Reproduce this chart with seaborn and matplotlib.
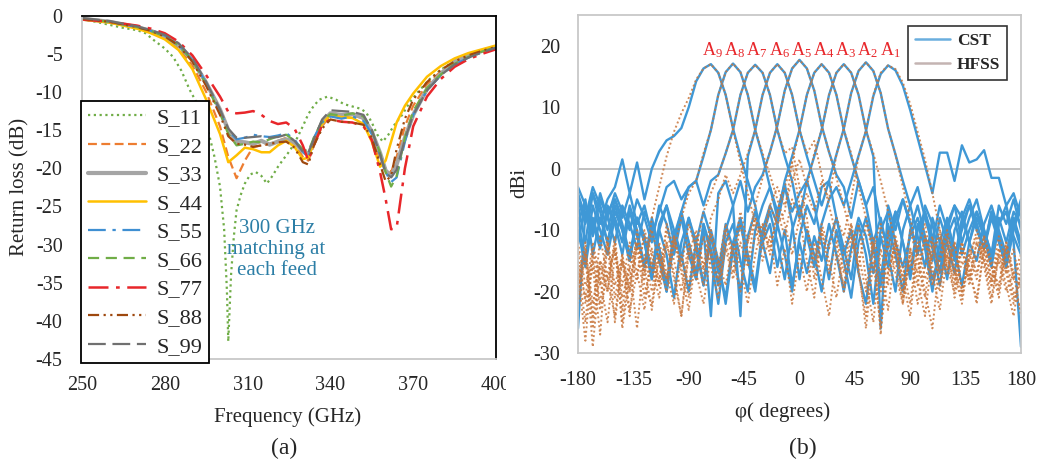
import matplotlib
matplotlib.use("Agg")
import matplotlib.pyplot as plt
import seaborn as sns
from matplotlib.lines import Line2D
from matplotlib.patches import Rectangle

# ---------------- data: panel (a) ----------------
FREQ = [250, 260, 270, 275, 280, 285, 290, 295, 300, 303, 306, 309, 312, 315, 318, 321, 324, 327, 330, 332,
        334, 337, 340, 344, 348, 352, 355, 358, 360, 362, 364, 367, 370, 375, 380, 385, 390, 395, 400]

FREQ_11 = [250, 255, 260, 265, 270, 273, 276, 280, 283, 286, 289, 292, 294, 296, 298, 300, 301.5, 302.5, 303, 304,
           305, 306, 307.5, 309, 311, 313, 315, 317, 319, 321, 323, 325.5, 328, 330, 332, 334, 336, 339, 342, 345,
           348, 351, 353, 355, 357, 359, 361, 363, 366, 369, 372, 376, 380, 385, 390, 395, 400]
S_11 = [-0.5, -0.8, -1.2, -1.6, -1.9, -2.3, -3.2, -4.3, -5.4, -7.2, -9.7, -11.7, -13.2, -15.5, -18.5, -22.4, -28, -36, -42.7, -34,
        -29, -25.5, -23.5, -22, -20.8, -20.5, -21, -22, -21, -19.8, -18.8, -17.6, -16, -14.5, -12.9, -11.8, -11, -10.6, -11, -11.6,
        -11.9, -12.2, -12.7, -14, -15.6, -16.5, -15.6, -14.4, -13, -11.2, -9.9, -8.3, -7.1, -5.9, -5.1, -4.5, -4.0]

S_22 = [-0.4, -0.8, -1.6, -2.2, -3.0, -4.3, -6.5, -10.0, -14.5, -18.5, -21.3, -19.0, -17.2, -17.0, -16.8, -16.4, -16.0, -16.8, -18.5, -19.0,
        -17.0, -14.5, -13.0, -13.3, -13.0, -13.5, -15.5, -19.0, -20.0, -20.5, -18.5, -14.5, -11.8, -9.0, -7.3, -6.1, -5.3, -4.6, -4.1]
S_33 = [-0.4, -0.8, -1.5, -2.0, -2.7, -3.9, -5.8, -8.8, -12.3, -15.0, -16.5, -16.6, -16.8, -16.4, -16.9, -16.5, -16.2, -16.6, -17.8, -18.2,
        -16.5, -14.0, -12.8, -13.0, -12.9, -13.4, -15.2, -18.0, -20.3, -21.0, -19.5, -16.0, -13.0, -9.6, -7.6, -6.0, -5.2, -4.6, -4.1]
S_44 = [-0.5, -0.9, -1.7, -2.3, -3.1, -4.5, -7.0, -11.0, -15.5, -19.2, -18.3, -17.3, -17.5, -17.9, -17.9, -17.0, -16.4, -17.2, -18.8, -18.6,
        -16.5, -14.2, -13.0, -13.3, -13.4, -14.2, -16.5, -19.8, -19.0, -16.5, -14.0, -11.8, -10.2, -8.0, -6.6, -5.6, -4.9, -4.4, -3.9]
S_55 = [-0.4, -0.8, -1.5, -2.0, -2.6, -3.8, -5.8, -8.8, -12.5, -15.0, -16.2, -16.0, -15.6, -15.8, -15.9, -15.7, -15.4, -16.2, -17.8, -18.6,
        -16.0, -14.0, -13.2, -13.5, -13.2, -13.8, -15.5, -18.2, -20.5, -21.8, -21.2, -16.5, -13.0, -9.8, -7.8, -6.4, -5.5, -4.8, -4.2]
S_66 = [-0.4, -0.8, -1.5, -2.0, -2.7, -3.9, -5.9, -9.0, -12.8, -15.5, -17.0, -16.8, -16.5, -16.6, -16.2, -15.8, -15.6, -16.4, -17.5, -17.8,
        -16.0, -13.8, -12.9, -13.1, -12.8, -13.2, -15.0, -18.0, -20.5, -22.4, -21.0, -16.0, -12.5, -9.5, -7.7, -6.3, -5.4, -4.7, -4.1]
S_77 = [-0.5, -0.8, -1.3, -1.7, -2.3, -3.4, -5.2, -7.8, -10.6, -12.6, -12.8, -12.7, -12.5, -13.0, -13.8, -14.2, -14.0, -14.8, -17.0, -19.0,
        -17.0, -14.3, -13.6, -13.9, -14.0, -14.5, -16.3, -20.5, -24.0, -28.0, -27.8, -20.0, -14.5, -10.6, -8.3, -6.7, -5.7, -5.0, -4.4]
S_88 = [-0.4, -0.8, -1.5, -2.0, -2.7, -3.9, -6.0, -9.2, -13.0, -15.8, -16.8, -16.9, -17.2, -17.0, -16.8, -16.6, -16.5, -17.3, -19.2, -19.5,
        -17.0, -14.8, -13.6, -13.9, -14.0, -14.3, -16.0, -19.5, -21.7, -21.0, -17.5, -13.5, -11.0, -8.7, -7.1, -6.0, -5.2, -4.6, -4.1]
S_99 = [-0.3, -0.7, -1.4, -1.9, -2.5, -3.6, -5.6, -8.7, -12.3, -14.8, -16.0, -16.0, -15.9, -15.8, -16.0, -15.9, -15.6, -16.4, -17.8, -18.0,
        -16.2, -13.6, -12.4, -12.5, -12.6, -13.0, -15.0, -18.2, -20.6, -21.2, -20.2, -16.2, -13.0, -9.8, -7.8, -6.4, -5.5, -4.8, -4.2]

S_NAMES = ["S_11", "S_22", "S_33", "S_44", "S_55", "S_66", "S_77", "S_88", "S_99"]
X_TICKS_A = [250, 280, 310, 340, 370, 400]
Y_TICKS_A = [0, -5, -10, -15, -20, -25, -30, -35, -40, -45]

# ---------------- data: panel (b) ----------------
PHI = list(range(-180, 181, 6))
PEAKS = [-72, -54, -36, -18, 0, 18, 36, 54, 72]
BEAM_LABELS = ["A$_9$", "A$_8$", "A$_7$", "A$_6$", "A$_5$", "A$_4$", "A$_3$", "A$_2$", "A$_1$"]
Y_TICKS_B = [20, 10, 0, -10, -20, -30]
X_TICKS_B = [-180, -135, -90, -45, 0, 45, 90, 135, 180]

CST_A9 = [-6, -12, -4, -9, -5, -3, 1.5, -4, 1, -5,
          0, 2.8, 4.6, 5.3, 6.6, 10, 14.2, 16.3, 17, 15.6,
          12, 6.5, 2, -2, -6, -12, -9, -16, -10, -19,
          -12, -17, -11, -15, -9, -14, -20, -13, -8, -11,
          -17, -10, -7, -12, -16, -11, -8, -12, -18, -14,
          -9, -13, -19, -12, -8, -11, -15, -9, -7, -12,
          -29]
CST_A8 = [-4, -8, -3, -6, -10, -5, -8, -4, -9, -6,
          -11, -7, -3, -2, -5, -3, -2, 2, 6.3, 12,
          15.7, 17.1, 15.7, 12, 6.3, 2, -3, -7, -2.5, -9,
          -18, -10, -14, -20, -12, -8, -13, -18, -9, -14,
          -22, -11, -16, -8, -5, -9, -14, -6, -9, -15,
          -10, -6, -8, -12, -7, -10, -14, -6, -9, -5,
          -10]
CST_A7 = [-9, -5, -14, -8, -12, -7, -10, -15, -8, -12,
          -18, -10, -6, -12, -7, -3, -2, -6, -2, -1,
          2.5, 6.3, 12, 15.6, 16.9, 15.6, 12, 6.3, 2, -2,
          -8, -2, -6, -12, -18, -10, -15, -21, -12, -8,
          -13, -19, -11, -7, -12, -17, -9, -13, -20, -12,
          -8, -14, -10, -6, -9, -13, -8, -12, -16, -10,
          -6]
CST_A6 = [-26, -7, -10, -4, -8, -12, -6, -9, -13, -7,
          -10, -15, -20, -12, -8, -14, -18, -10, -24, -4,
          -2, -6, -24, 2, 6.3, 12, 15.6, 17, 15.6, 12,
          6.3, 2, -2, -6, -2, -8, -14, -10, -17, -22,
          -12, -8, -14, -20, -10, -6, -11, -16, -8, -12,
          -18, -10, -7, -12, -15, -9, -6, -10, -14, -8,
          -12]
CST_A5 = [-3, -6, -11, -5, -8, -4, -7, -10, -5, -8,
          -12, -6, -9, -14, -8, -12, -17, -9, -13, -19,
          -10, -6, -2, -7, -3, -1, 2.7, 7, 12.7, 16.3,
          17.7, 16.3, 12.7, 7, 2.7, -1, -3, -8, -2, -6,
          -12, -18, -9, -14, -20, -10, -6, -11, -15, -8,
          -12, -17, -9, -6, -10, -13, -7, -11, -15, -9,
          -5]
CST_A4 = [-8, -15, -6, -10, -14, -8, -12, -6, -10, -16,
          -9, -13, -20, -11, -7, -12, -18, -9, -14, -22,
          -12, -9, -15, -20, -10, -6, -3, -8, -2, 2,
          6.3, 12, 15.6, 17, 15.6, 12, 6.3, 2, -2, -6,
          -3, -9, -13, -7, -12, -18, -10, -7, -13, -19,
          -11, -8, -14, -10, -7, -11, -16, -9, -6, -11,
          -14]
CST_A3 = [-12, -6, -9, -13, -7, -5, -9, -14, -8, -11,
          -17, -9, -6, -10, -15, -8, -12, -19, -11, -16,
          -21, -12, -8, -14, -19, -10, -6, -9, -3, -7,
          -4, -2, 2, 6.3, 12, 15.6, 17, 15.6, 12, 6.3,
          2, -26, -6, -10, -5, -9, -14, -7, -11, -17,
          -9, -6, -12, -8, -5, -10, -14, -8, -12, -7,
          -9]
CST_A2 = [-10, -16, -8, -12, -6, -9, -14, -7, -11, -16,
          -8, -13, -19, -10, -14, -20, -12, -7, -11, -17,
          -9, -13, -20, -11, -7, -12, -17, -9, -14, -20,
          -11, -6, -9, -3, -2, 2.3, 6.5, 12.3, 15.9, 17.3,
          15.9, 12.3, 6.5, 2.3, -2, -6, -3, -8, -12, -6,
          -10, -15, -8, -5, -9, -13, -7, -11, -16, -9,
          -13]
CST_A1 = [-5, -9, -4, -7, -12, -6, -10, -15, -8, -12,
          -18, -10, -14, -21, -12, -8, -13, -19, -10, -15,
          -22, -13, -9, -15, -20, -11, -7, -12, -18, -10,
          -6, -11, -16, -9, -5, -3, -6, -2, 2.1, 6.1,
          11.8, 15.4, 16.8, 16, 13.5, 9.5, 5, 0.5, -4, 2.6,
          2.6, -2, 3.8, 1, 1.5, 3, -1.5, -1.5, -6, -4,
          -8]

HFSS_A9 = [-17, -28, -14, -22, -12, -25, -15, -20, -10, -18,
           -8, -3, 2, 6, 9, 11.5, 14.5, 16.3, 17, 15.6,
           12, 6.3, 1, -4, -9, -15, -11, -19, -13, -22,
           -14, -20, -12, -18, -24, -14, -19, -11, -16, -26,
           -15, -26, -17, -12, -20, -14, -22, -16, -11, -19,
           -13, -21, -15, -18, -12, -16, -22, -14, -19, -24,
           -16]
HFSS_A8 = [-18, -12, -26, -15, -20, -11, -23, -14, -18, -10,
           -14, -19, -9, -13, -8, -4, -2, 2.5, 6.3, 12,
           15.7, 17.1, 15.7, 12, 6.3, 2.5, -1, -5, -9, -14,
           -8, -15, -21, -10, -17, -12, -20, -14, -9, -18,
           -25, -13, -19, -11, -16, -22, -12, -18, -14, -10,
           -17, -12, -20, -15, -10, -14, -19, -13, -16, -21,
           -18]
HFSS_A7 = [-20, -14, -24, -11, -18, -13, -25, -16, -12, -19,
           -22, -14, -18, -11, -16, -9, -13, -7, -4, -1,
           2.5, 6.3, 12, 15.6, 16.9, 15.6, 12, 6.3, 2.5, 3.5,
           -3, -8, -18, -10, -15, -21, -13, -9, -17, -24,
           -12, -27, -10, -15, -22, -13, -17, -11, -19, -14,
           -10, -16, -21, -13, -17, -11, -15, -20, -12, -17,
           -14]
HFSS_A6 = [-13, -22, -16, -27, -12, -19, -14, -23, -17, -11,
           -16, -21, -12, -18, -24, -14, -10, -16, -8, -5,
           -1, -4, -1, 2.5, 6.3, 12, 15.6, 17, 15.6, 12,
           6.3, 2.5, 4.5, -1, -6, -11, -17, -9, -14, -20,
           -11, -16, -23, -13, -18, -10, -15, -21, -12, -17,
           -14, -19, -12, -16, -22, -13, -18, -11, -15, -20,
           -23]
HFSS_A5 = [-16, -25, -13, -19, -11, -21, -15, -24, -12, -17,
           -10, -15, -20, -12, -17, -23, -14, -19, -11, -16,
           -9, -14, -7, -12, -6, -1.5, 2.7, 7, 12.7, 16.3,
           17.7, 16.3, 12.7, 7, 2.7, -1.5, -6, -11, -16, -9,
           -14, -20, -12, -17, -22, -13, -18, -24, -14, -11,
           -16, -20, -13, -18, -12, -15, -21, -14, -17, -13,
           -20]
HFSS_A4 = [-22, -14, -29, -16, -20, -12, -26, -18, -13, -21,
           -15, -19, -12, -17, -24, -13, -18, -11, -16, -21,
           -12, -17, -9, -15, -8, -11, -6, -9, -7, 1,
           6.3, 12, 15.6, 17, 15.6, 12, 6.3, 2.5, -3, -8,
           -13, -9, -17, -12, -21, -15, -19, -11, -17, -23,
           -14, -18, -12, -17, -21, -13, -16, -19, -12, -18,
           -15]
HFSS_A3 = [-12, -19, -15, -23, -17, -13, -21, -16, -26, -14,
           -20, -12, -17, -22, -14, -19, -11, -16, -13, -18,
           -10, -15, -20, -12, -8, -13, -6, -3, -6, -2,
           1.5, -3, 2.5, 6.3, 12, 15.6, 17, 15.6, 12, 6.3,
           2.5, -2, -7, -12, -18, -24, -13, -9, -16, -20,
           -12, -17, -22, -14, -11, -15, -19, -13, -17, -22,
           -17]
HFSS_A2 = [-19, -13, -22, -15, -18, -24, -14, -20, -12, -16,
           -23, -14, -18, -11, -16, -21, -13, -17, -10, -15,
           -19, -12, -16, -22, -14, -9, -13, -7, -11, -5,
           -8, -4, -7, -2, -5, 2.3, 6.5, 12.3, 15.9, 17.3,
           15.9, 12.3, 6.5, 2.3, -3, -8, -14, -20, -26, -15,
           -11, -17, -13, -19, -14, -12, -18, -15, -20, -17,
           -24]
HFSS_A1 = [-15, -21, -12, -18, -25, -14, -19, -12, -17, -23,
           -13, -18, -10, -15, -20, -12, -17, -22, -14, -19,
           -13, -18, -12, -16, -11, -9, -14, -7, -3, 1,
           -6, -10, -15, -9, -13, -8, -11, -5, 2, 6.3,
           12, 15.6, 16.8, 16.2, 14, 10.5, 6, 1.5, -4, -10,
           -16, -12, -20, -14, -18, -11, -16, -21, -13, -18,
           -19]

CST = [CST_A9, CST_A8, CST_A7, CST_A6, CST_A5, CST_A4, CST_A3, CST_A2, CST_A1]
HFSS = [HFSS_A9, HFSS_A8, HFSS_A7, HFSS_A6, HFSS_A5, HFSS_A4, HFSS_A3, HFSS_A2, HFSS_A1]

# ---------------- style ----------------
sns.set_style("white")
plt.rcParams["font.family"] = ["Liberation Serif", "DejaVu Serif"]
plt.rcParams["mathtext.fontset"] = "custom"
plt.rcParams["mathtext.rm"] = "Liberation Serif"
plt.rcParams["mathtext.it"] = "Liberation Serif:italic"

W, H = 1041, 465
fig = plt.figure(figsize=(W / 100, H / 100), dpi=100)


def fx(px):
    return px / W


def fy(py):
    return 1 - py / H


# ---------------- panel (a) ----------------
ax1 = fig.add_axes([fx(82), fy(359), fx(496 - 82), (359 - 15.7) / H])
styles_a = [
    ("#70ad47", (0, (1, 1.6)), 1.6),
    ("#ed7d31", (0, (4, 2)), 1.6),
    ("#a5a5a5", "-", 3.0),
    ("#ffc000", "-", 1.8),
    ("#3f8fd2", (0, (8, 3, 1.5, 3)), 1.6),
    ("#70ad47", (0, (5, 3)), 1.6),
    ("#e8262a", (0, (8, 3, 1.5, 3)), 1.8),
    ("#9e480e", (0, (5, 2, 1, 2, 1, 2)), 1.6),
    ("#707070", (0, (8, 3)), 1.6),
]
series_a = [S_11, S_22, S_33, S_44, S_55, S_66, S_77, S_88, S_99]
for name, ys, (col, ls, lw) in zip(S_NAMES, series_a, styles_a):
    xs = FREQ_11 if name == "S_11" else FREQ
    sns.lineplot(x=xs, y=ys, ax=ax1, color=col, linestyle=ls, lw=lw, label=name,
                 errorbar=None, sort=False)

ax1.set_xlim(250, 400)
ax1.set_ylim(-45, 0)
ax1.set_xticks(X_TICKS_A)
ax1.set_xticklabels([str(v) for v in X_TICKS_A])
ax1.set_yticks(Y_TICKS_A)
ax1.set_yticklabels([str(v) for v in Y_TICKS_A])
ax1.tick_params(length=0, labelsize=14.5)
ax1.tick_params(axis="y", pad=14)
ax1.tick_params(axis="x", pad=12)
ax1.set_xlabel("")
ax1.set_ylabel("")
for s in ["top", "right"]:
    ax1.spines[s].set_color("black")
    ax1.spines[s].set_linewidth(1.3)
for s in ["left", "bottom"]:
    ax1.spines[s].set_color("#c8c8c8")
    ax1.spines[s].set_linewidth(1.3)

leg1 = ax1.legend(loc="upper left", bbox_to_anchor=(-0.002, (359 - 101) / (359 - 15.7)),
                  borderaxespad=0, fontsize=16, frameon=True, fancybox=False,
                  edgecolor="black", handlelength=2.6, handletextpad=0.5,
                  labelspacing=0.36, borderpad=0.3)
leg1.get_frame().set_linewidth(1.3)
leg1.get_frame().set_alpha(1)

ax1.text(320.5, -30.6, "300 GHz\nmatching at\neach feed", color="#2c7ea6",
         fontsize=15, ha="center", va="center", linespacing=1.15)

# ---------------- panel (b) ----------------
ax2 = fig.add_axes([fx(578), fy(353), fx(1021 - 578), (353 - 15) / H])
ax2.axhline(0, color="#bdbdbd", lw=1.3, zorder=0.5)
for ys in CST:
    sns.lineplot(x=PHI, y=ys, ax=ax2, color="#3f98d6", lw=1.7, errorbar=None, sort=False)
for ys in HFSS:
    sns.lineplot(x=PHI, y=ys, ax=ax2, color="#c8763c", lw=1.4, linestyle=(0, (1, 1.3)),
                 errorbar=None, sort=False, alpha=0.85)

for pk, lab in zip(PEAKS, BEAM_LABELS):
    ax2.text(pk + 1.5, 19.3, lab, color="#e8262a", fontsize=13, ha="center", va="center")

ax2.set_xlim(-180, 180)
ax2.set_ylim(-30, 25)
ax2.set_xticks(X_TICKS_B)
ax2.set_xticklabels([str(v) for v in X_TICKS_B])
ax2.set_yticks(Y_TICKS_B)
ax2.set_yticklabels([str(v) for v in Y_TICKS_B])
ax2.tick_params(length=0, labelsize=14.5)
ax2.tick_params(axis="y", pad=13)
ax2.tick_params(axis="x", pad=13)
ax2.set_xlabel("")
ax2.set_ylabel("")
for s in ax2.spines.values():
    s.set_color("#c8c8c8")
    s.set_linewidth(1.3)

handles = [Line2D([], [], color="#6aaede", lw=1.8), Line2D([], [], color="#c4b4b2", lw=1.8)]
leg2 = fig.legend(handles, ["CST", "HFSS"], loc="upper right",
                  bbox_to_anchor=(fx(1007), fy(26)), bbox_transform=fig.transFigure,
                  borderaxespad=0, frameon=True, fancybox=False, edgecolor="black",
                  handlelength=2.0, handletextpad=0.4, labelspacing=0.45, borderpad=0.4,
                  prop={"weight": "bold", "size": 12.5})
leg2.get_frame().set_linewidth(1.2)

# ---------------- figure texts ----------------
fig.text(fx(20), fy(187), "Return loss (dB)", rotation=90, ha="center", va="center", fontsize=15)
fig.text(fx(288), fy(417), "Frequency (GHz)", ha="center", va="center", fontsize=15)
fig.text(fx(284), fy(448), "(a)", ha="center", va="center", fontsize=17)
fig.text(fx(520), fy(183), "dBi", rotation=90, ha="center", va="center", fontsize=15)
fig.text(fx(783), fy(412), "φ( degrees)", ha="center", va="center", fontsize=15)
fig.text(fx(803), fy(448), "(b)", ha="center", va="center", fontsize=17)

fig.patches.append(Rectangle((fx(506), fy(400)), fx(12), (400 - 365) / H,
                             transform=fig.transFigure, facecolor="white",
                             edgecolor="none", zorder=10))

fig.savefig("out.png", dpi=100)
